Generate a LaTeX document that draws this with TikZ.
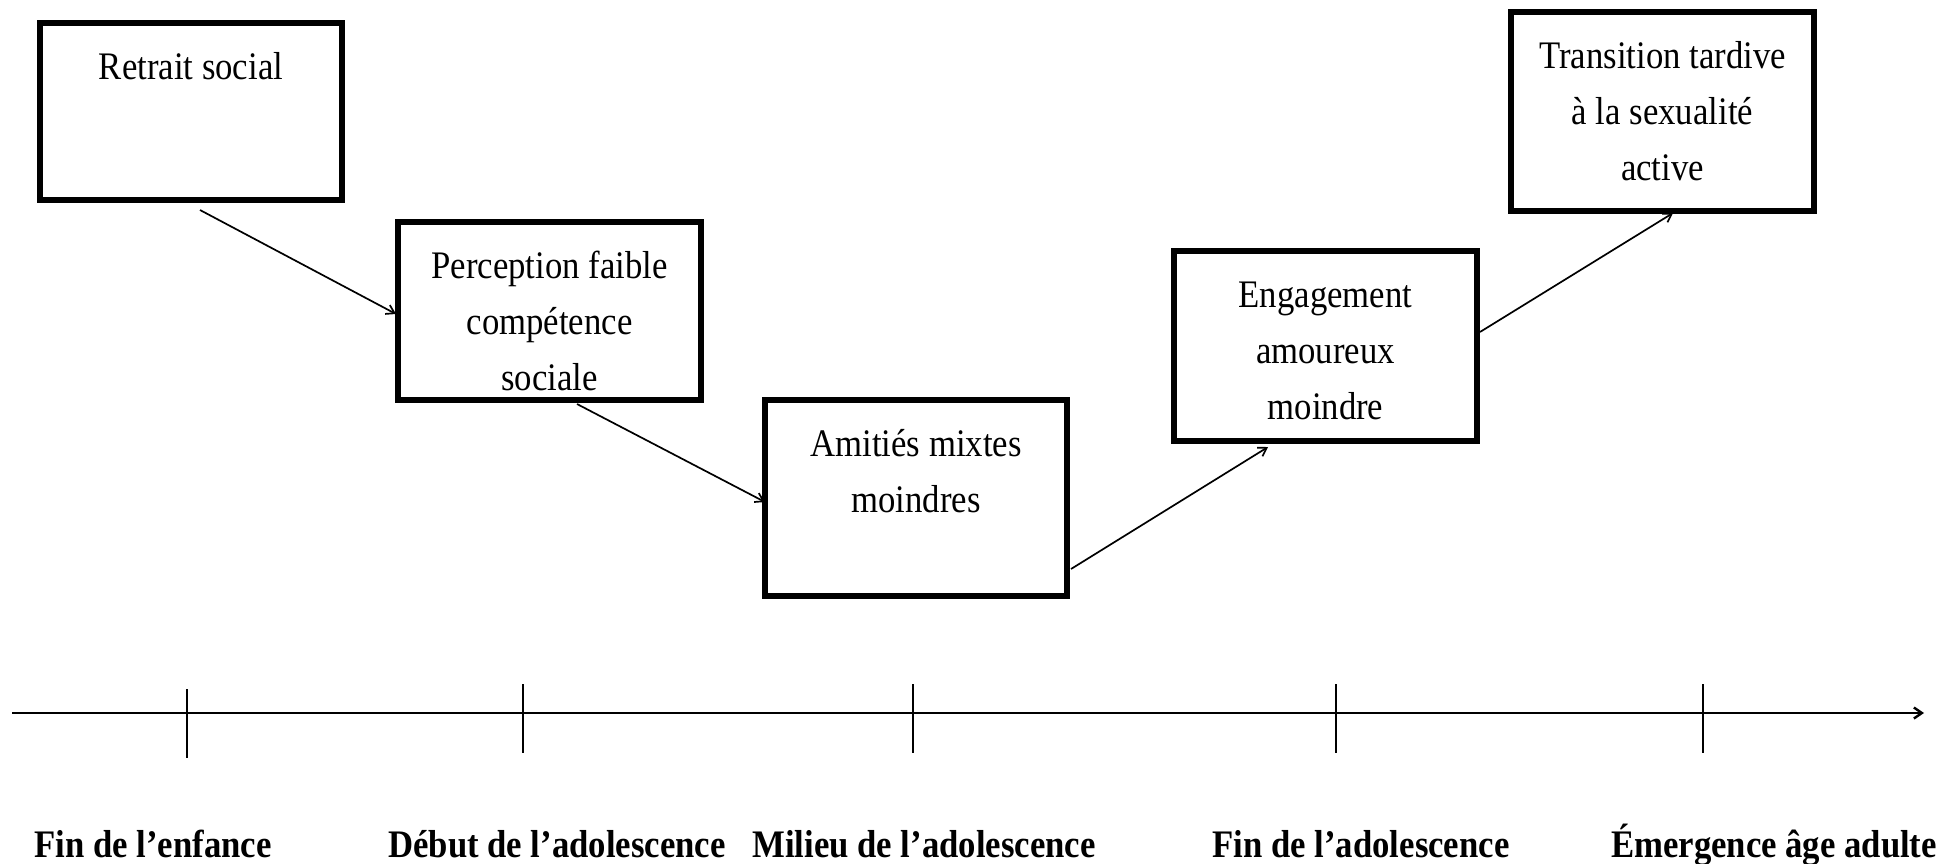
\documentclass[tikz,border=0pt]{standalone}
\usepackage{fontspec}
\setmainfont{Liberation Serif}[FakeStretch=0.89]
\usetikzlibrary{arrows.meta}
\newcommand\bxtext[3]{\parbox[c][#2pt][t]{#1pt}{\centering\rule{0pt}{56pt}#3}}
\begin{document}
\begin{tikzpicture}[x=1pt,y=1pt,
  box/.style={draw=black, line width=5.5pt, inner sep=0pt, fill=white, font=\fontsize{39}{56}\selectfont},
  link/.style={line width=1.7pt, -{Straight Barb[length=8pt,width=10pt,line width=1.7pt]}},
  axisline/.style={line width=2.6pt, -{Straight Barb[length=8pt,width=11pt,line width=2.4pt]}},
  tick/.style={line width=1.6pt},
  period/.style={anchor=base, font=\fontsize{39}{46}\selectfont\bfseries, inner sep=0pt}]
\useasboundingbox (0,0) rectangle (1949,-863);
\fill[white] (0,0) rectangle (1949,-863);

\node[box] (b1) at (191,-111.5) {\bxtext{302}{177}{Retrait social}};
\node[box] (b2) at (549.5,-311) {\bxtext{303}{178}{Perception faible\\compétence\\sociale}};
\node[box] (b3) at (916,-498) {\bxtext{302}{196}{Amitiés mixtes\\moindres}};
\node[box] (b4) at (1325.5,-346) {\bxtext{303}{190}{Engagement\\amoureux\\moindre}};
\node[box] (b5) at (1662.5,-111.5) {\bxtext{303}{199}{Transition tardive\\à la sexualité\\active}};

\coordinate (a1s) at (200,-210);  \coordinate (a1e) at (396,-314);
\coordinate (a2s) at (577,-404);  \coordinate (a2e) at (765,-502);
\coordinate (a3s) at (1071,-569); \coordinate (a3e) at (1268,-447);
\coordinate (a4s) at (1480,-332); \coordinate (a4e) at (1673,-213);
\draw[link] (a1s) -- (a1e);
\draw[link] (a2s) -- (a2e);
\draw[link] (a3s) -- (a3e);
\draw[link] (a4s) -- (a4e);

\coordinate (ax0) at (12,-713); \coordinate (ax1) at (1924,-713);
\draw[axisline] (ax0) -- (ax1);
\coordinate (t1a) at (187,-689);  \coordinate (t1b) at (187,-758);
\coordinate (t2a) at (523,-684);  \coordinate (t2b) at (523,-753);
\coordinate (t3a) at (913,-684);  \coordinate (t3b) at (913,-753);
\coordinate (t4a) at (1336,-684); \coordinate (t4b) at (1336,-753);
\coordinate (t5a) at (1703,-684); \coordinate (t5b) at (1703,-753);
\draw[tick] (t1a) -- (t1b);
\draw[tick] (t2a) -- (t2b);
\draw[tick] (t3a) -- (t3b);
\draw[tick] (t4a) -- (t4b);
\draw[tick] (t5a) -- (t5b);

\node[period] (p1) at (153,-857) {Fin de l’enfance};
\node[period] (p2) at (557,-857) {Début de l’adolescence};
\node[period] (p3) at (924,-857) {Milieu de l’adolescence};
\node[period] (p4) at (1361,-857) {Fin de l’adolescence};
\node[period] (p5) at (1774,-857) {Émergence âge adulte};
\end{tikzpicture}
\end{document}
